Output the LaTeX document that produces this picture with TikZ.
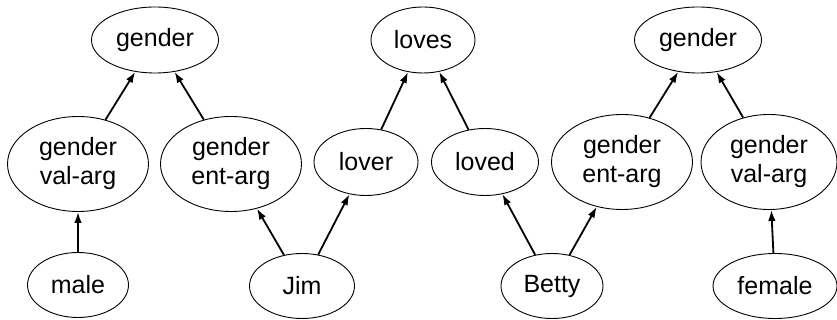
\documentclass[tikz,border=0pt]{standalone}
\usepackage{fontspec}
\setmainfont{Liberation Sans}
\usetikzlibrary{shapes.geometric,arrows.meta}
\begin{document}
\begin{tikzpicture}[x=1pt,y=1pt,
  ell/.style={draw,ellipse,line width=0.9pt,inner sep=0pt,align=center,
    font=\fontsize{25}{29}\selectfont},
  top/.style={ell,minimum height=66pt},
  two/.style={ell,minimum width=141pt,minimum height=95pt},
  mid/.style={ell,minimum height=67pt},
  bot/.style={ell,minimum height=65pt},
  arr/.style={line width=1.8pt,-{Latex[length=11pt,width=7.5pt]}}]
\useasboundingbox (0,0) rectangle (837,320);
% top row
\node[top,minimum width=127pt] (g1) at (155,280) {gender};
\node[top,minimum width=104pt] (loves) at (423,280) {loves};
\node[top,minimum width=127pt] (g2) at (698,280) {gender};
% middle row
\node[two] (va1) at (78,156) {gender\\val-arg};
\node[two] (ea1) at (231,156) {gender\\ent-arg};
\node[mid,minimum width=104pt] (lover) at (366,158) {lover};
\node[mid,minimum width=107pt] (loved) at (485,158) {loved};
\node[two] (ea2) at (622,158) {gender\\ent-arg};
\node[two,minimum width=136pt] (va2) at (769,158) {gender\\val-arg};
% bottom row
\node[bot,minimum width=101pt] (male) at (78,35) {male};
\node[bot,minimum width=105pt] (jim) at (302,34) {Jim};
\node[bot,minimum width=102pt] (betty) at (552,34) {Betty};
\node[bot,minimum width=124pt] (female) at (775,34) {female};
% arrows
\draw[arr] (va1) -- (g1);
\draw[arr] (ea1) -- (g1);
\draw[arr] (male) -- (va1);
\draw[arr] (jim) -- (ea1);
\draw[arr] (jim) -- (lover);
\draw[arr] (lover) -- (loves);
\draw[arr] (loved) -- (loves);
\draw[arr] (betty) -- (loved);
\draw[arr] (betty) -- (ea2);
\draw[arr] (ea2) -- (g2);
\draw[arr] (va2) -- (g2);
\draw[arr] (female) -- (va2);
\end{tikzpicture}
\end{document}
